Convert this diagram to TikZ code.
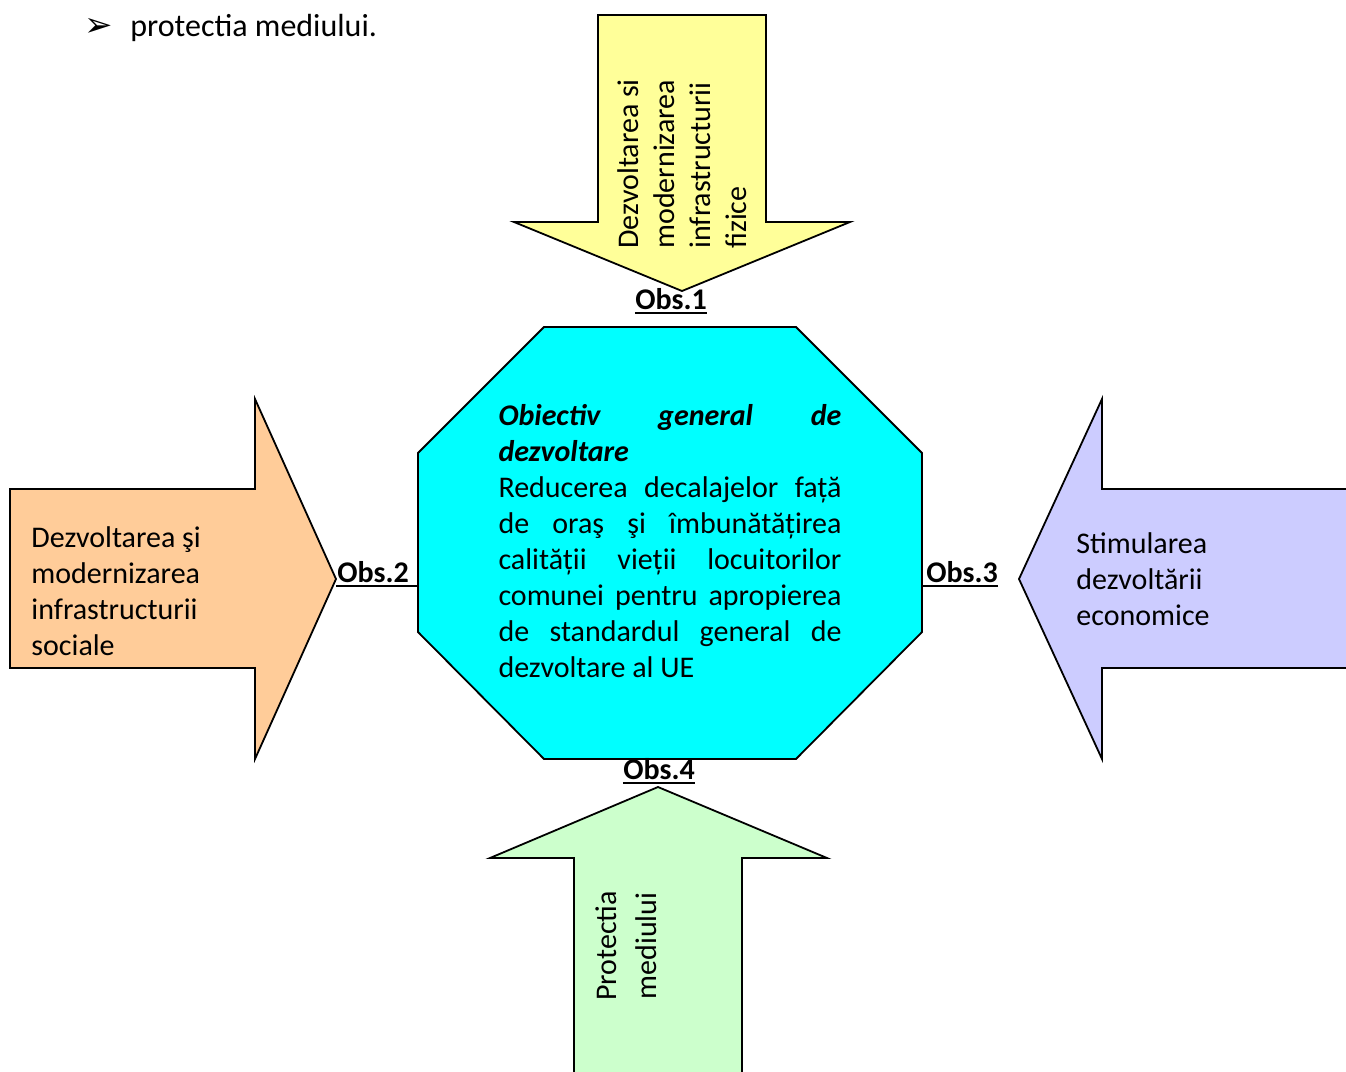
\documentclass[tikz,border=0pt]{standalone}
\usepackage{fontspec}
\setmainfont{Carlito}
\newfontfamily\dingfont{DejaVu Sans}
\definecolor{yellowfill}{HTML}{FFFF99}
\definecolor{cyanfill}{HTML}{00FFFF}
\definecolor{orangefill}{HTML}{FFCC99}
\definecolor{bluefill}{HTML}{CCCCFF}
\definecolor{greenfill}{HTML}{CCFFCC}
\begin{document}
\begin{tikzpicture}[x=0.5pt,y=-0.5pt,
    shapebox/.style={draw=black,line width=0.9pt,line join=miter},
    txt/.style={font=\fontsize{15}{18}\selectfont,inner sep=0pt},
    obs/.style={font=\fontsize{15}{18}\selectfont\bfseries,inner sep=0pt}]
  \clip (0,0) rectangle (1346,1072);
  % corners of the octagon and arrow tips
  \coordinate (octL) at (418,453);
  \coordinate (octR) at (922,453);
  \coordinate (tip2) at (336,579);
  \coordinate (tip3) at (1019,579);
  % the four arrows
  \filldraw[shapebox,fill=yellowfill] (598,15)--(766,15)--(766,222)--(850,222)--(682,291)--(514,222)--(598,222)--cycle;
  \filldraw[shapebox,fill=orangefill] (10,489)--(255,489)--(255,399)--(tip2)--(255,759)--(255,668)--(10,668)--cycle;
  \filldraw[shapebox,fill=bluefill] (1360,489)--(1102,489)--(1102,399)--(tip3)--(1102,759)--(1102,668)--(1360,668)--cycle;
  \filldraw[shapebox,fill=greenfill] (574,1090)--(574,858)--(490,858)--(658,787)--(827,858)--(742,858)--(742,1090)--cycle;
  % octagon
  \filldraw[shapebox,fill=cyanfill] (544,327)--(796,327)--(octR)--(922,632)--(796,759)--(544,759)--(418,632)--(octL)--cycle;
  \node[txt,text width=171.5pt,align=justify] (goal) at (670,541) {\textbf{\textit{Obiectiv general de}}\linebreak
    \textbf{\textit{dezvoltare}}\newline
    Reducerea decalajelor față\linebreak de oraş şi îmbunătățirea\linebreak calității vieții locuitorilor\linebreak
    comunei pentru apropierea\linebreak de standardul general de\linebreak dezvoltare al UE};
  % texts in the arrows
  \node[txt,rotate=90,anchor=west,align=left] (fizic) at (682,249) {Dezvoltarea si\\modernizarea\\infrastructurii\\fizice};
  \node[txt,anchor=west,align=left] (social) at (31,591) {Dezvoltarea şi\\modernizarea\\infrastructurii\\sociale};
  \node[txt,anchor=west,align=left] (econ) at (1076,579) {Stimularea\\dezvoltării\\economice};
  \node[txt,rotate=90,align=center,font=\fontsize{15}{20}\selectfont] (mediu) at (626,946) {Protectia\\mediului};
  % Obs labels
  \node[obs,anchor=base] (obs1) at (671,309) {Obs.1};
  \node[obs,anchor=base west] (obs2) at (337,582) {Obs.2};
  \node[obs,anchor=base west] (obs3) at (926,582) {Obs.3};
  \node[obs,anchor=base] (obs4) at (659,779) {Obs.4};
  \draw[line width=0.9pt] ([yshift=-2pt]obs1.base west)--([yshift=-2pt]obs1.base east);
  \draw[line width=0.9pt] ([yshift=-2pt]obs4.base west)--([yshift=-2pt]obs4.base east);
  \draw[line width=0.9pt] ([yshift=-2pt]obs2.base west -| tip2)--([yshift=-2pt]obs2.base west -| octL);
  \draw[line width=0.9pt] ([yshift=-2pt]obs3.base east)--([yshift=-2pt]obs3.base east -| octR);
  % bullet line above
  \node[inner sep=0pt,anchor=west,font=\dingfont\fontsize{17}{19}\selectfont] (bullet) at (84,27) {➢};
  \node[inner sep=0pt,anchor=base west,font=\fontsize{16}{19}\selectfont] (note) at (130,36) {protectia mediului.};
\end{tikzpicture}
\end{document}
